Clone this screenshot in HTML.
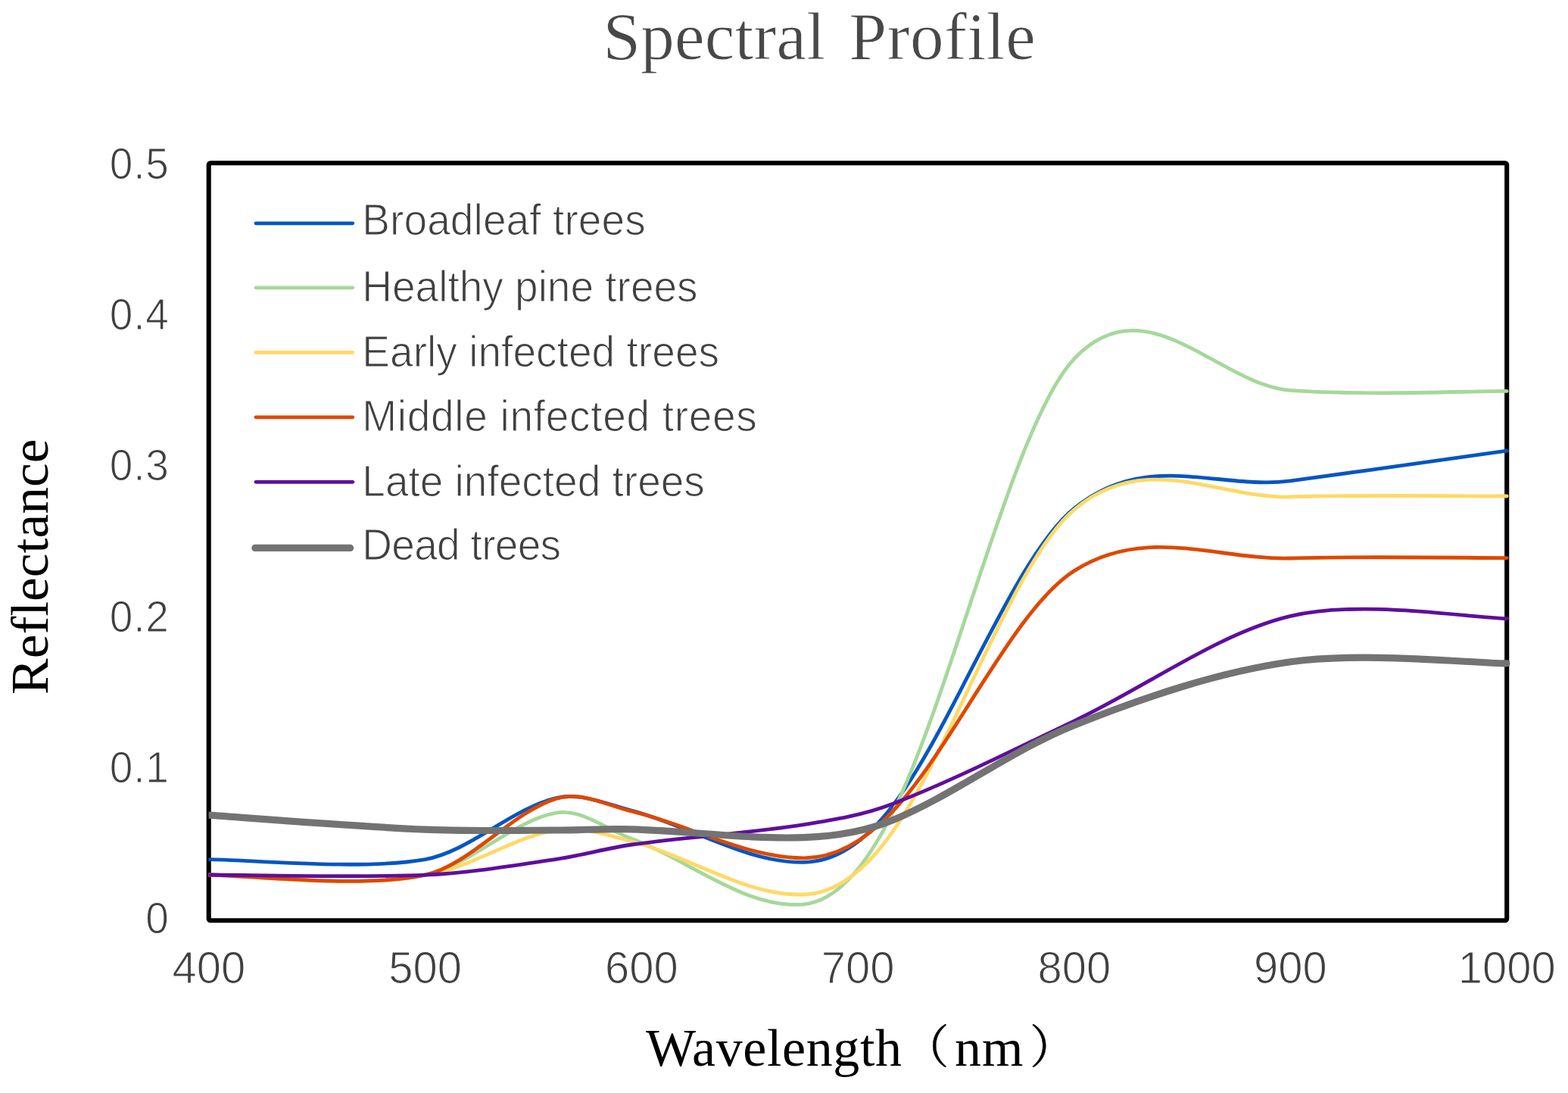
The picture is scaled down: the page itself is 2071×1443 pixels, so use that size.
<!DOCTYPE html>
<html lang="en">
<head>
<meta charset="utf-8">
<title>Spectral Profile</title>
<style>
html, body { margin: 0; padding: 0; background: #ffffff; }
body { width: 2071px; height: 1443px; overflow: hidden; }
svg { display: block; }
text { font-variant-ligatures: none; }
.title { font-family: "Liberation Serif", serif; font-size: 89px; fill: #484848; stroke: #ffffff; stroke-width: 0.8px; }
.ax { font-family: "Liberation Serif", "Noto Serif CJK SC", serif; font-size: 70px; fill: #000000; }
.axy { font-variant-ligatures: normal; }
.axx { letter-spacing: 0.6px; }
.par { font-size: 61px; stroke: #000000; stroke-width: 0.4px; }
.tk { font-family: "Liberation Sans", sans-serif; fill: #404040; stroke: #ffffff; stroke-width: 1.1px; }
.xt { font-size: 58px; }
.yt { font-size: 55px; letter-spacing: 0.8px; }
.lg { font-family: "Liberation Sans", sans-serif; font-size: 55px; fill: #404040; stroke: #ffffff; stroke-width: 1.1px; }
</style>
</head>
<body>
<svg width="2071" height="1443" viewBox="0 0 2071 1443">
<rect x="0" y="0" width="2071" height="1443" fill="#ffffff"/>
<text class="title" y="78"><tspan x="796.6" style="letter-spacing:0.25px">Spectral </tspan><tspan x="1121.6" style="letter-spacing:0.65px">Profile</tspan></text>
<g id="yticks">
<text class="tk yt" transform="translate(223.6,235.6) scale(1,1.03)" text-anchor="end">0.5</text>
<text class="tk yt" transform="translate(223.6,434.9) scale(1,1.03)" text-anchor="end">0.4</text>
<text class="tk yt" transform="translate(223.6,634.2) scale(1,1.03)" text-anchor="end">0.3</text>
<text class="tk yt" transform="translate(223.6,833.5) scale(1,1.03)" text-anchor="end">0.2</text>
<text class="tk yt" transform="translate(223.6,1032.8) scale(1,1.03)" text-anchor="end">0.1</text>
<text class="tk yt" transform="translate(223.6,1232.1) scale(1,1.03)" text-anchor="end">0</text>
</g>
<g id="xticks">
<text class="tk xt" transform="translate(276.0,1298) scale(1,1.035)" text-anchor="middle">400</text>
<text class="tk xt" transform="translate(561.7,1298) scale(1,1.035)" text-anchor="middle">500</text>
<text class="tk xt" transform="translate(847.4,1298) scale(1,1.035)" text-anchor="middle">600</text>
<text class="tk xt" transform="translate(1133.1,1298) scale(1,1.035)" text-anchor="middle">700</text>
<text class="tk xt" transform="translate(1418.8,1298) scale(1,1.035)" text-anchor="middle">800</text>
<text class="tk xt" transform="translate(1704.5,1298) scale(1,1.035)" text-anchor="middle">900</text>
<text class="tk xt" transform="translate(1990.2,1298) scale(1,1.035)" text-anchor="middle">1000</text>
</g>
<rect x="275.7" y="215.2" width="1714.5" height="1000.0" rx="2.2" ry="2.2" fill="none" stroke="#000000" stroke-width="6.1" stroke-linejoin="round"/>
<g id="legend">
<line x1="338.0" y1="294.8" x2="465.8" y2="294.8" stroke="#0556C2" stroke-width="4.8" stroke-linecap="round"/>
<text class="lg" transform="translate(478.3,309.8) scale(1,1.04)" style="letter-spacing:0.1px">Broadleaf trees</text>
<line x1="338.0" y1="379.8" x2="465.8" y2="379.8" stroke="#A5D89A" stroke-width="4.8" stroke-linecap="round"/>
<text class="lg" transform="translate(478.3,398.3) scale(1,1.04)" style="letter-spacing:0.0px">Healthy pine trees</text>
<line x1="338.0" y1="465.4" x2="465.8" y2="465.4" stroke="#FFD966" stroke-width="4.8" stroke-linecap="round"/>
<text class="lg" transform="translate(478.3,483.9) scale(1,1.04)" style="letter-spacing:0.05px">Early infected trees</text>
<line x1="338.0" y1="550.8" x2="465.8" y2="550.8" stroke="#DF4800" stroke-width="4.8" stroke-linecap="round"/>
<text class="lg" transform="translate(478.3,569.4) scale(1,1.04)" style="letter-spacing:0.7px">Middle infected trees</text>
<line x1="338.0" y1="636.3" x2="465.8" y2="636.3" stroke="#5E0E9E" stroke-width="4.8" stroke-linecap="round"/>
<text class="lg" transform="translate(478.3,654.9) scale(1,1.04)" style="letter-spacing:0.0px">Late infected trees</text>
<line x1="336.8" y1="723.4" x2="462.6" y2="723.4" stroke="#737373" stroke-width="9.2" stroke-linecap="round"/>
<text class="lg" transform="translate(478.3,739.3) scale(1,1.04)" style="letter-spacing:-0.7px">Dead trees</text>
</g>
<clipPath id="plotclip"><rect x="275.6" y="200" width="1719" height="1030"/></clipPath>
<g id="series" clip-path="url(#plotclip)">
<path d="M276.0,1134.6 C323.6,1134.6 476.9,1149.6 561.7,1134.6 C619.3,1124.4 676.9,1067.2 734.5,1053.6 C768.0,1045.7 801.4,1061.8 834.8,1070.4 C910.7,1090.0 986.4,1139.9 1062.2,1138.4 C1101.2,1137.7 1140.2,1114.8 1179.1,1063.8 C1259.0,959.1 1338.9,736.5 1418.8,671.2 C1514.1,593.4 1609.2,647.5 1704.5,634.8 C1799.8,622.1 1942.6,601.8 1990.2,595.2" fill="none" stroke="#0556C2" stroke-width="4.8" stroke-linecap="round" stroke-linejoin="round"/>
<path d="M276.0,1155.0 C323.6,1155.0 476.9,1173.4 561.7,1154.8 C619.3,1144.5 676.9,1083.2 734.5,1073.2 C768.0,1067.4 801.4,1095.3 834.8,1107.6 C910.7,1135.5 986.4,1201.5 1062.2,1193.8 C1101.2,1189.9 1140.2,1151.4 1179.1,1072.8 C1259.0,911.4 1338.9,558.4 1418.8,473.6 C1514.1,372.5 1609.2,508.3 1704.5,515.4 C1799.8,522.5 1942.6,516.2 1990.2,516.4" fill="none" stroke="#A5D89A" stroke-width="4.8" stroke-linecap="round" stroke-linejoin="round"/>
<path d="M276.0,1155.0 C323.6,1155.0 476.9,1173.8 561.7,1155.2 C619.3,1147.8 676.9,1105.1 734.5,1095.8 C768.0,1090.4 801.4,1102.3 834.8,1111.0 C910.7,1130.7 986.4,1183.9 1062.2,1181.0 C1101.2,1179.5 1140.2,1153.3 1179.1,1097.8 C1259.0,983.9 1338.9,740.0 1418.8,672.8 C1514.1,592.7 1609.2,659.0 1704.5,656.0 C1799.8,653.0 1942.6,655.2 1990.2,655.0" fill="none" stroke="#FFD966" stroke-width="4.8" stroke-linecap="round" stroke-linejoin="round"/>
<path d="M276.0,1155.0 C323.6,1155.0 476.9,1173.8 561.7,1155.2 C619.3,1142.6 676.9,1072.1 734.5,1054.4 C768.0,1044.1 801.4,1063.2 834.8,1071.2 C910.7,1089.3 986.4,1132.8 1062.2,1132.8 C1101.2,1132.8 1140.2,1112.6 1179.1,1071.2 C1259.0,986.2 1338.9,804.4 1418.8,753.6 C1514.1,693.0 1609.2,739.8 1704.5,737.0 C1799.8,734.2 1942.6,736.7 1990.2,736.6" fill="none" stroke="#DF4800" stroke-width="4.8" stroke-linecap="round" stroke-linejoin="round"/>
<path d="M276.0,1155.0 C323.6,1155.0 476.9,1159.0 561.7,1155.2 C619.3,1152.6 676.9,1142.9 734.5,1134.4 C768.0,1129.5 801.4,1119.7 834.8,1115.0 C910.7,1104.4 986.4,1100.5 1062.2,1088.6 C1101.2,1082.5 1140.2,1076.1 1179.1,1061.2 C1259.0,1030.5 1338.9,989.5 1418.8,951.8 C1514.1,906.9 1609.2,835.9 1704.5,813.4 C1799.8,790.9 1942.6,816.1 1990.2,816.6" fill="none" stroke="#5E0E9E" stroke-width="4.8" stroke-linecap="round" stroke-linejoin="round"/>
<path d="M276.0,1076.2 C323.6,1079.4 476.9,1091.5 561.7,1095.2 C619.3,1097.7 676.9,1096.1 734.5,1096.0 C768.0,1096.0 801.4,1093.8 834.8,1094.8 C910.7,1097.0 986.4,1108.2 1062.2,1105.6 C1101.2,1104.2 1140.2,1099.0 1179.1,1082.8 C1259.0,1049.6 1338.9,989.2 1418.8,957.4 C1514.1,919.5 1609.2,887.4 1704.5,873.8 C1799.8,860.2 1942.6,875.5 1990.2,875.8" fill="none" stroke="#737373" stroke-width="9.2" stroke-linecap="round" stroke-linejoin="round"/>
</g>
<text class="ax axy" transform="translate(62.9,748.3) rotate(-90) scale(1.022,1)" text-anchor="middle">Reflectance</text>
<text class="ax axx" y="1406.5"><tspan x="853">Wavelength</tspan><tspan class="par" x="1192.4" y="1404.2">（</tspan><tspan x="1261" y="1406.5" style="letter-spacing:1px">nm</tspan><tspan class="par" x="1360" y="1404.2">）</tspan></text>
</svg>
</body>
</html>
